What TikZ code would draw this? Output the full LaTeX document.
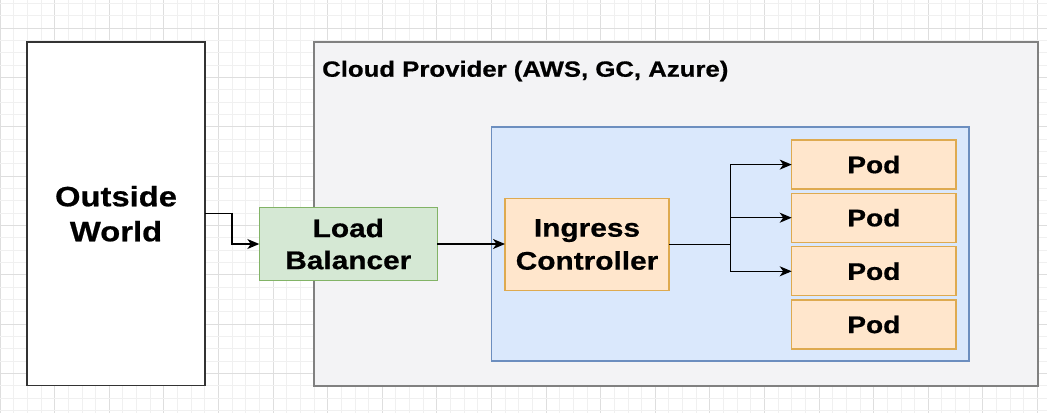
\documentclass[tikz,border=0pt]{standalone}
\usepackage{fontspec}
\setmainfont{Liberation Sans}[FakeStretch=1.17, BoldFeatures={FakeBold=0.7}]
\usetikzlibrary{arrows.meta}

\definecolor{gridminor}{RGB}{240,240,240}
\definecolor{gridmajor}{RGB}{222,222,222}
\definecolor{cloudfill}{RGB}{243,243,245}
\definecolor{cloudline}{RGB}{128,128,128}
\definecolor{bluefill}{RGB}{218,232,252}
\definecolor{blueline}{RGB}{108,142,191}
\definecolor{greenfill}{RGB}{213,232,212}
\definecolor{greenline}{RGB}{130,179,102}
\definecolor{orangefill}{RGB}{255,230,204}
\definecolor{orangeline}{RGB}{222,170,80}

\tikzset{
  box/.style={rectangle, inner sep=0pt, outer sep=0pt, align=center,
              font=\bfseries},
  worldbox/.style={box, draw={rgb,255:red,51;green,51;blue,51}, line width=1.5pt, fill=white},
  cloudbox/.style={box, draw=cloudline, line width=2pt, fill=cloudfill},
  clusterbox/.style={box, draw=blueline, line width=1.3pt, fill=bluefill},
  lbbox/.style={box, draw=greenline, line width=1.3pt, fill=greenfill},
  ctrlbox/.style={box, draw=orangeline, line width=1.3pt, fill=orangefill},
  podbox/.style={ctrlbox, minimum width=164.3pt, minimum height=49pt,
                 font=\bfseries\fontsize{24}{30}\selectfont},
  link/.style={draw=black, line width=1.2pt,
               -{Stealth[length=12pt,width=10pt,inset=3.5pt]}},
}

\begin{document}
\begin{tikzpicture}[x=1pt,y=-1pt]
  \useasboundingbox (0,0) rectangle (1047,413);
  \fill[white] (0,0) rectangle (1047,413);

  % background grid: minor lines with a darker line every fourth step
  \foreach \k in {0,...,76} {
    \pgfmathsetmacro{\gx}{\k*13.65}
    \pgfmathtruncatemacro{\gm}{mod(\k,4)}
    \ifnum\gm=0
      \draw[gridmajor, line width=0.9pt] (\gx,0) -- (\gx,413);
    \else
      \draw[gridminor, line width=0.8pt] (\gx,0) -- (\gx,413);
    \fi
  }
  \foreach \k in {0,...,33} {
    \pgfmathsetmacro{\gy}{3.54+\k*12.33}
    \pgfmathtruncatemacro{\gm}{mod(\k,4)}
    \ifnum\gm=2
      \draw[gridmajor, line width=0.9pt] (0,\gy) -- (1047,\gy);
    \else
      \draw[gridminor, line width=0.8pt] (0,\gy) -- (1047,\gy);
    \fi
  }

  % outer boxes
  \node[worldbox, minimum width=178pt, minimum height=343.5pt,
        font=\bfseries\fontsize{28}{35}\selectfont]
        (ow) at (116,213.75) {Outside\\World};
  \node[cloudbox, minimum width=723.5pt, minimum height=343.5pt]
        (cloud) at (675.75,213.75) {};
  \node[anchor=base west, inner sep=0pt, font=\bfseries\fontsize{22}{26}\selectfont]
        (title) at (322,76.7) {Cloud Provider (AWS, GC, Azure)};

  % cluster area
  \node[clusterbox, minimum width=477.5pt, minimum height=234pt]
        (cluster) at (730.25,244) {};

  \node[lbbox, minimum width=178pt, minimum height=73.4pt,
        font=\bfseries\fontsize{25.5}{32}\selectfont]
        (lb) at (348.3,244) {Load\\Balancer};
  \node[ctrlbox, minimum width=164pt, minimum height=92.4pt,
        font=\bfseries\fontsize{25.5}{33}\selectfont]
        (ic) at (587,244.5) {Ingress\\Controller};

  \node[podbox] (pod1) at (873.85,164.6) {Pod};
  \node[podbox] (pod2) at (873.85,217.7) {Pod};
  \node[podbox] (pod3) at (873.85,271.3) {Pod};
  \node[podbox] (pod4) at (873.85,324.5) {Pod};

  % connectors
  \coordinate (owbend) at (232,0);
  \coordinate (split) at (730.3,0);
  \draw[link] (ow.east) -- (ow.east -| owbend) |- (lb.west);
  \draw[link] (lb.east) -- (lb.east -| ic.west);
  \draw[link] (ic.east) -- (ic.east -| split) |- (pod1.west);
  \draw[link] (ic.east) -- (ic.east -| split) |- (pod2.west);
  \draw[link] (ic.east) -- (ic.east -| split) |- (pod3.west);
\end{tikzpicture}
\end{document}
